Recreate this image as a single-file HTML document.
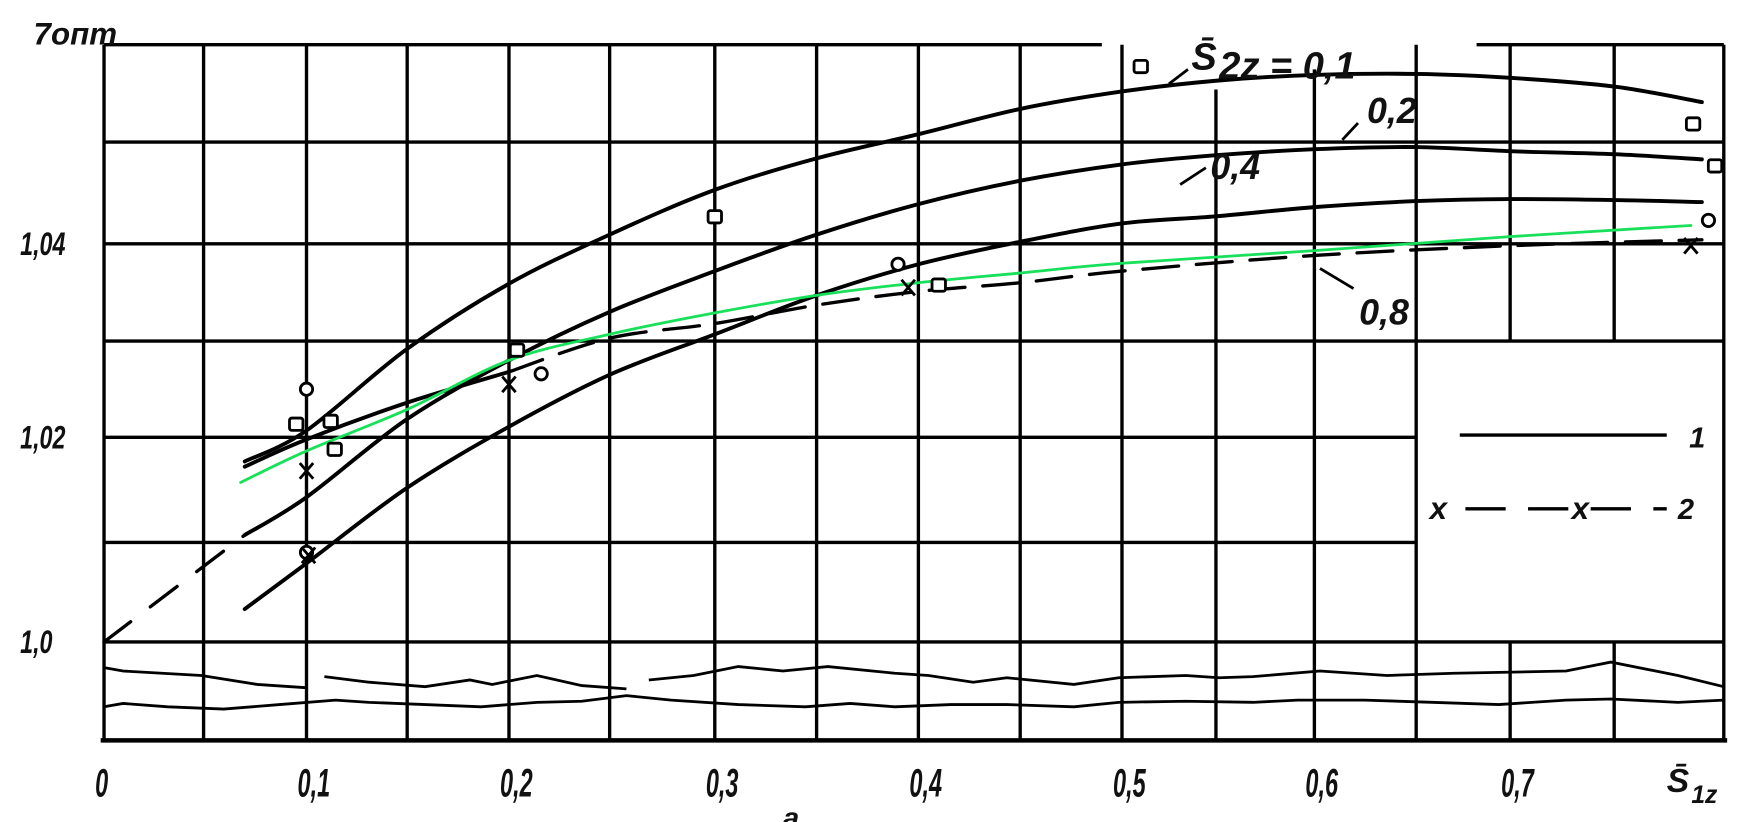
<!DOCTYPE html>
<html><head><meta charset="utf-8"><style>
html,body{margin:0;padding:0;background:#fff;}
svg{display:block;}
text{font-family:"Liberation Sans",sans-serif;font-style:italic;font-weight:bold;fill:#111;}
</style></head><body>
<svg id="chart" width="1754" height="822" viewBox="0 0 1568 735" preserveAspectRatio="none" xmlns="http://www.w3.org/2000/svg">
<g id="grid" stroke="#000" stroke-width="3" fill="none"></g>
<g id="breaks" stroke="#000" stroke-width="2.5" fill="none">
<path d="M93,597 L110,600 L180,604 L230,612 L275,615 M290,605 L330,610 L380,614 L420,608 L440,612 L480,604 L520,613 L560,616 M580,608 L620,604 L660,596 L700,600 L740,596 L800,602 L830,604 L870,610 L900,606 L960,612 L1000,606 L1060,604 L1090,606 L1120,605 L1180,600 L1240,604 L1300,602 L1400,600 L1440,592 L1500,604 L1541,614"/>
<path d="M93,632 L110,629 L150,632 L200,634 L250,630 L300,626 L330,628 L380,630 L430,632 L480,628 L520,627 L560,622 L600,626 L660,630 L720,632 L760,629 L800,632 L850,630 L900,630 L960,632 L1000,628 L1060,627 L1120,628 L1160,626 L1220,626 L1280,628 L1340,630 L1400,626 L1440,625 L1500,628 L1541,626"/>
</g>
<g id="curves" fill="none"></g>
<g id="markers" stroke="#000" stroke-width="2.5" fill="#fff"></g>
<g id="labels"></g>
<g>
<line x1="1305" y1="389" x2="1490" y2="389" stroke="#000" stroke-width="3"/>
<text x="1510" y="400" font-size="26">1</text>
<text x="1278" y="464" font-size="28" font-style="normal">x</text>
<line x1="1310" y1="455" x2="1490" y2="455" stroke="#000" stroke-width="3" stroke-dasharray="36,20"/>
<text x="1405" y="464" font-size="28" font-style="normal">x</text>
<text x="1500" y="464" font-size="26">2</text>
</g>
</svg>
<script>
const NS='http://www.w3.org/2000/svg';
const xTickVals=[0,0.05,0.1,0.15,0.2,0.25,0.3,0.35,0.4,0.45,0.5,0.55,0.6,0.65,0.7,0.75,0.8];
const xTickPx=[93,182,274,364,455,545,639,730,821,912,1003,1087,1175,1266,1350,1443,1541];
const yTickVals=[1.0,1.01,1.02,1.03,1.04,1.05,1.06];
const yTickPx=[574,485,391,305,218,127,40];
const xLabels=['0','0,1','0,2','0,3','0,4','0,5','0,6','0,7'];
const xLabelVals=[0,0.1,0.2,0.3,0.4,0.5,0.6,0.7];
const yLabels=['1,0','1,02','1,04'];
const yLabelVals=[1.0,1.02,1.04];
const sGrid=[0.07,0.1,0.15,0.2,0.25,0.3,0.35,0.4,0.45,0.5,0.55,0.6,0.65,0.7,0.75,0.79];
const eta01=[1.0177,1.0207,1.0292,1.0359,1.0409,1.0453,1.0484,1.0508,1.0534,1.0552,1.0563,1.0569,1.0570,1.0566,1.0557,1.0541];
const eta02=[1.0107,1.0143,1.0219,1.0280,1.0330,1.0372,1.0409,1.0439,1.0462,1.0478,1.0487,1.0493,1.0495,1.0491,1.0488,1.0483];
const eta04=[1.0033,1.0079,1.0152,1.0211,1.0265,1.0307,1.0347,1.0379,1.0402,1.0420,1.0427,1.0436,1.0442,1.0444,1.0443,1.0441];
const s08solid=[0.07,0.1,0.15,0.2];
const eta08solid=[1.0172,1.0198,1.0236,1.0268];
const s08dash=[0.2,0.25,0.3,0.35,0.4,0.45,0.5,0.6,0.7,0.79];
const eta08dash=[1.0268,1.0303,1.0318,1.0337,1.0351,1.0360,1.0372,1.0388,1.0398,1.0404];
const sGreen=[0.068,0.1,0.15,0.2,0.25,0.3,0.35,0.4,0.45,0.5,0.6,0.7,0.785];
const etaGreen=[1.0157,1.0187,1.0229,1.0280,1.0307,1.0329,1.0347,1.0360,1.0370,1.0380,1.0393,1.0407,1.0418];
const sExt=[0,0.07];
const etaExt=[1.0,1.0107];
const sqS=[0.095,0.112,0.114,0.204,0.3,0.41,0.51,0.786,0.796];
const sqE=[1.0213,1.0216,1.0188,1.0290,1.0426,1.0357,1.0577,1.0518,1.0476];
const ciS=[0.1,0.216,0.39,0.1,0.793];
const ciE=[1.0250,1.0266,1.0379,1.0090,1.0423];
const xmS=[0.1,0.2,0.395,0.101,0.785];
const xmE=[1.0168,1.0255,1.0355,1.0087,1.0398];

function interp(v,vals,px){
  for(let i=0;i<vals.length-1;i++){
    const a=vals[i],b=vals[i+1];
    if((v>=a&&v<=b)||i===vals.length-2||(i===0&&v<a)){
      return px[i]+(v-a)/(b-a)*(px[i+1]-px[i]);
    }
  }
}
const X=v=>interp(v,xTickVals,xTickPx);
const Y=v=>interp(v,yTickVals,yTickPx);
function mk(tag,attrs,parent){const e=document.createElementNS(NS,tag);for(const k in attrs)e.setAttribute(k,attrs[k]);parent.appendChild(e);return e;}

const gridG=document.getElementById('grid');
const frameLeft=X(0),frameRight=X(0.8),frameTop=Y(1.06),yBase=Y(1.0),frameBottom=662;
xTickVals.forEach((v)=>{
  const x=X(v);
  let t0=frameTop;
  if(Math.abs(v-0.55)<1e-6)t0=80;
  if(Math.abs(v-0.6)<1e-6)t0=62;
  let segs=[[t0,frameBottom]];
  if(v>0.66&&v<0.79){segs=[[frameTop,Y(1.03)],[yBase,frameBottom]];}
  segs.forEach(s=>{
    const l=mk('line',{x1:x,y1:s[0],x2:x,y2:s[1]},gridG);
    
    
  });
});
yTickVals.forEach(v=>{
  const y=Y(v);
  if(v===1.06){
    const a=mk('line',{x1:frameLeft,y1:y,x2:985,y2:y},gridG);
    
    
    const b=mk('line',{x1:1320,y1:y,x2:frameRight,y2:y},gridG);
    
    
    return;
  }
  const x2=(v===1.01||v===1.02)?X(0.65):frameRight;
  const l=mk('line',{x1:frameLeft,y1:y,x2:x2,y2:y},gridG);
  
  
});
const bl=mk('line',{x1:frameLeft-3,y1:frameBottom,x2:frameRight+3,y2:frameBottom,'stroke-width':4},gridG);



const curvesG=document.getElementById('curves');
function path(xs,ys,name,stroke,w,dash){
  const P=xs.map((s,i)=>[X(s),Y(ys[i])]);
  let d='M'+P[0][0].toFixed(1)+','+P[0][1].toFixed(1);
  for(let i=0;i<P.length-1;i++){
    const p0=P[Math.max(0,i-1)],p1=P[i],p2=P[i+1],p3=P[Math.min(P.length-1,i+2)];
    const c1=[p1[0]+(p2[0]-p0[0])/6,p1[1]+(p2[1]-p0[1])/6];
    const c2=[p2[0]-(p3[0]-p1[0])/6,p2[1]-(p3[1]-p1[1])/6];
    d+=`C${c1[0].toFixed(1)},${c1[1].toFixed(1)} ${c2[0].toFixed(1)},${c2[1].toFixed(1)} ${p2[0].toFixed(1)},${p2[1].toFixed(1)}`;
  }
  const p=mk('path',{d:d,stroke:stroke,'stroke-width':w,'stroke-linejoin':'round','stroke-linecap':'round'},curvesG);
  if(dash)p.setAttribute('stroke-dasharray',dash);
  
  
}
path(sGrid,eta01,'curve-s22-0.1','#000',3.5);
path(sGrid,eta02,'curve-s22-0.2','#000',3.5);
path(sGrid,eta04,'curve-s22-0.4','#000',3.5);
path(sExt,etaExt,'curve-extension-dashed','#000',3,'30,22');
path(s08solid,eta08solid,'curve-s22-0.8-solid','#000',3.5);
path(s08dash,eta08dash,'curve-s22-0.8-dashed','#000',3,'32,16');
path(sGreen,etaGreen,'curve-green-fit','#19e05a',2.5);

const mg=document.getElementById('markers');
sqS.forEach((s,i)=>{
  const r=mk('rect',{x:X(s)-6,y:Y(sqE[i])-6,width:12,height:11,rx:2},mg);
  
  
});
ciS.forEach((s,i)=>{
  const c=mk('circle',{cx:X(s),cy:Y(ciE[i]),r:5.5},mg);
  
  
});
xmS.forEach((s,i)=>{
  const x=X(s),y=Y(xmE[i]);
  const p=mk('path',{d:`M${x-6},${y-7}L${x+6},${y+7}M${x+6},${y-7}L${x-6},${y+7}`,fill:'none'},mg);
  
  
});

const lg=document.getElementById('labels');
function txt(x,y,s,name,size,extra){
  const t=mk('text',Object.assign({x:x,y:y,'font-size':size||28},extra||{}),lg);
  t.textContent=s;
  
  
  return t;
}
xLabels.forEach((l,i)=>{const lx=X(xLabelVals[i])-8;txt(lx,712,l,'x-tick-label',30,{transform:`translate(${lx},712) scale(0.7,1.2) translate(${-lx},-712)`});});
yLabels.forEach((l,i)=>{const ly=Y(yLabelVals[i])+10;txt(18,ly,l,'y-tick-label',26,{transform:`translate(18,${ly}) scale(0.8,1.1) translate(-18,${-ly})`});});
txt(30,40,'7опт','y-axis-title',28);
txt(1490,708,'S̄','x-axis-title',30);
txt(1512,718,'1z','x-axis-title-sub',22);
txt(700,740,'a','x-axis-fragment',26);
txt(1065,62,'S̄','curve-label-s22',34);
txt(1090,70,'2z = 0,1','curve-label-0.1',34);
txt(1222,110,'0,2','curve-label-0.2',32);
txt(1082,160,'0,4','curve-label-0.4',32);
txt(1215,290,'0,8','curve-label-0.8',32);
const lead=mk('path',{d:'M1045,75 L1062,62 M1200,125 L1214,110 M1055,165 L1078,150 M1180,240 L1210,258',stroke:'#000','stroke-width':2.5,fill:'none'},lg);


</script>
</body></html>
